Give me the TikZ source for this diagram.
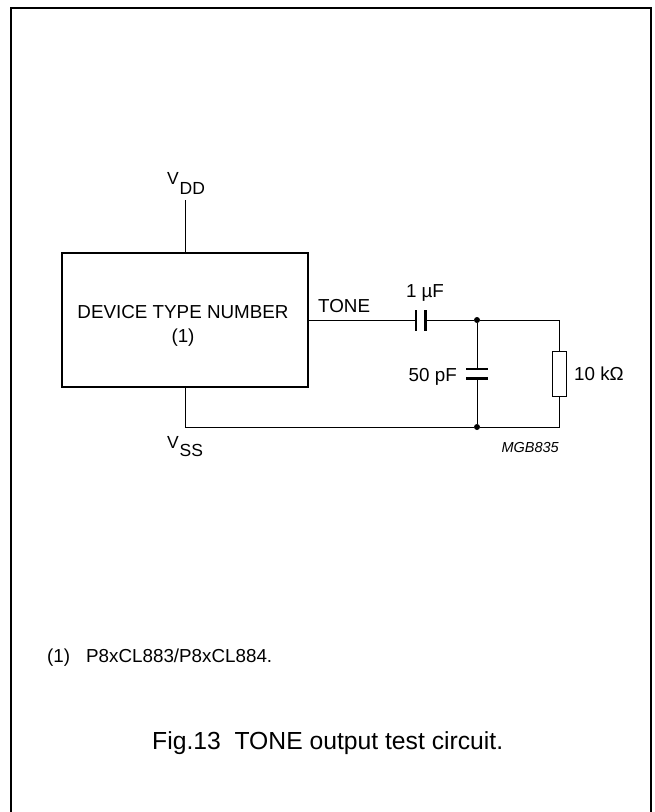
\documentclass[tikz,border=0pt]{standalone}
\usepackage{fontspec}
\setmainfont{Liberation Sans}
\newcommand{\fs}[1]{\fontsize{#1}{#1}\selectfont}
\begin{document}
\begin{tikzpicture}[x=1pt,y=-1pt,
  wire/.style={line width=1pt},
  plate/.style={line width=2.9pt},
  lbl/.style={inner sep=0pt,font=\fs{18.8}},
  dot/.style={circle,fill=black,inner sep=0pt,minimum size=6pt},
  devbox/.style={draw,line width=1.6pt,minimum width=246pt,minimum height=134pt,inner sep=0pt},
  resbox/.style={draw,fill=white,line width=1pt,minimum width=14pt,minimum height=45pt,inner sep=0pt}]
\useasboundingbox (0,0) rectangle (655,812);
% frame
\draw[line width=1.8pt] (11,813) -- (11,8) -- (651,8) -- (651,813);
% device
\node[devbox] (box) at (185,320) {};
\node[lbl,anchor=base] (devtxt) at (183,318) {DEVICE TYPE NUMBER};
\node[lbl,anchor=base] (devnote) at (183,342) {(1)};
% supply
\coordinate (vddend) at (185,200);
\draw[wire] (box.north) -- (vddend);
\node[lbl,anchor=base west,font=\fs{17.5}] (vddv) at (167,184) {V};
\node[lbl,anchor=base west,font=\fs{17.5}] (vddsub) at (179.5,194) {DD};
\coordinate (vssc) at (185,427);
\node[lbl,anchor=base west,font=\fs{17.5}] (vssv) at (167,448) {V};
\node[lbl,anchor=base west,font=\fs{17.5}] (vsssub) at (179.5,456) {SS};
% tone coupling capacitor
\coordinate (c1a) at (416,320);
\coordinate (c1b) at (425.5,320);
\draw[wire] (box.east) -- (c1a);
\draw[plate] (416,310) -- (416,331);
\draw[plate] (425.5,310) -- (425.5,331);
\node[lbl,anchor=base west] (tone) at (318,312) {TONE};
\node[lbl,anchor=base] (c1lbl) at (425,297) {1 µF};
% junctions
\node[dot] (j1) at (477,320) {};
\node[dot] (j2) at (477,427) {};
\coordinate (tr) at (559,320);
\coordinate (br) at (559,427);
% resistor
\node[resbox] (res) at (559,373.5) {};
\node[lbl,anchor=base west] (rlbl) at (574,380) {10 k\symbol{"03A9}};
% load capacitor
\coordinate (c2a) at (477,369);
\coordinate (c2b) at (477,378.5);
\draw[plate] (466,369) -- (488,369);
\draw[plate] (466,378.5) -- (488,378.5);
\node[lbl,anchor=base east] (c2lbl) at (457,381) {50 pF};
% wires
\draw[wire] (c1b) -- (j1) -- (tr) -- (res.north);
\draw[wire] (res.south) -- (br) -- (j2) -- (vssc) -- (box.south);
\draw[wire] (j1) -- (c2a);
\draw[wire] (c2b) -- (j2);
\node[inner sep=0pt,anchor=base east,font=\fs{14.5}\itshape] (code) at (559,452) {MGB835};
% footnote and caption
\node[lbl,anchor=base west] (fnnum) at (47,662) {(1)};
\node[lbl,anchor=base west] (fntxt) at (86,662) {P8xCL883/P8xCL884.};
\node[inner sep=0pt,anchor=base west,font=\fs{24.7}] (caption) at (152,749) {Fig.13\ \ TONE output test circuit.};
\end{tikzpicture}
\end{document}
